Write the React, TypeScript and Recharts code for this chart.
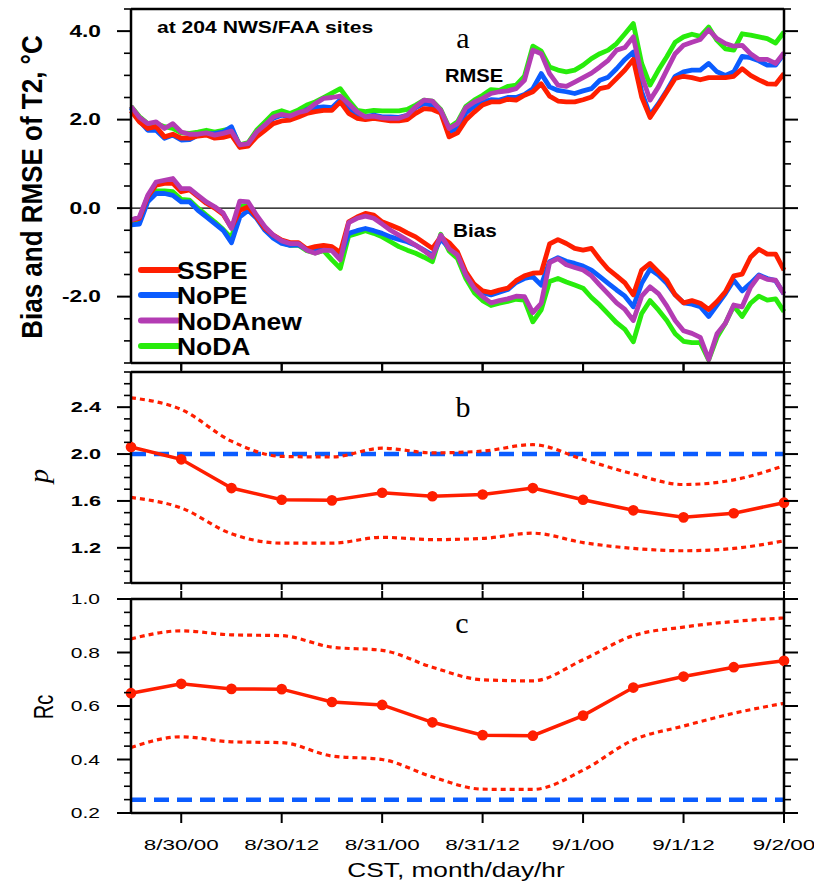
import { LineChart, Line, XAxis, YAxis, ReferenceLine } from "recharts";

// hourly T2 stats, first point = 8/29 18 CST
const rmseSSPE = [2.2, 1.95, 1.8, 1.84, 1.61, 1.67, 1.58, 1.58, 1.63, 1.65, 1.58, 1.6, 1.65, 1.37, 1.4, 1.61, 1.76, 1.91, 1.97, 1.99, 2.06, 2.14, 2.18, 2.21, 2.21, 2.4, 2.14, 2.03, 2.0, 2.03, 2.0, 1.97, 1.97, 2.0, 2.14, 2.25, 2.23, 2.15, 1.61, 1.7, 1.99, 2.17, 2.33, 2.4, 2.4, 2.46, 2.44, 2.55, 2.63, 2.81, 2.53, 2.42, 2.4, 2.4, 2.45, 2.51, 2.7, 2.74, 2.93, 3.12, 3.36, 2.51, 2.05, 2.33, 2.63, 2.93, 2.98, 2.95, 2.9, 2.95, 2.95, 2.95, 2.98, 3.15, 3.0, 2.9, 2.81, 2.8, 3.04];
const rmseNoPE = [2.27, 1.97, 1.76, 1.76, 1.58, 1.65, 1.54, 1.55, 1.65, 1.67, 1.69, 1.72, 1.84, 1.39, 1.45, 1.67, 1.85, 2.03, 2.1, 2.06, 2.11, 2.23, 2.27, 2.29, 2.27, 2.45, 2.27, 2.1, 2.06, 2.1, 2.06, 2.06, 2.05, 2.1, 2.27, 2.36, 2.33, 2.18, 1.72, 1.8, 2.15, 2.3, 2.4, 2.45, 2.44, 2.5, 2.5, 2.57, 2.7, 3.04, 2.74, 2.66, 2.63, 2.59, 2.65, 2.7, 2.89, 2.96, 3.15, 3.36, 3.53, 2.63, 2.1, 2.36, 2.66, 2.98, 3.08, 3.12, 3.12, 3.27, 3.08, 3.0, 3.08, 3.43, 3.4, 3.33, 3.23, 3.23, 3.49];
const rmseNoDAnew = [2.3, 2.05, 1.91, 1.95, 1.8, 1.91, 1.72, 1.67, 1.67, 1.7, 1.65, 1.69, 1.74, 1.43, 1.46, 1.72, 1.88, 2.06, 2.12, 2.08, 2.16, 2.21, 2.36, 2.48, 2.5, 2.53, 2.36, 2.18, 2.06, 2.08, 2.04, 2.03, 2.03, 2.1, 2.29, 2.44, 2.42, 2.21, 1.8, 1.91, 2.27, 2.4, 2.48, 2.59, 2.63, 2.65, 2.7, 2.89, 3.57, 3.49, 3.04, 2.78, 2.75, 2.85, 2.95, 3.05, 3.19, 3.34, 3.57, 3.63, 3.87, 3.0, 2.44, 2.74, 3.12, 3.49, 3.68, 3.75, 3.81, 4.03, 3.83, 3.72, 3.66, 3.68, 3.49, 3.36, 3.36, 3.27, 3.51];
const rmseNoDA = [2.3, 2.07, 1.91, 1.91, 1.84, 1.8, 1.7, 1.69, 1.72, 1.76, 1.72, 1.76, 1.8, 1.43, 1.48, 1.76, 1.95, 2.14, 2.2, 2.14, 2.22, 2.33, 2.4, 2.5, 2.6, 2.7, 2.44, 2.21, 2.18, 2.21, 2.2, 2.2, 2.2, 2.23, 2.33, 2.44, 2.42, 2.23, 1.82, 1.95, 2.3, 2.44, 2.55, 2.68, 2.66, 2.75, 2.78, 2.98, 3.66, 3.55, 3.19, 3.12, 3.08, 3.12, 3.23, 3.38, 3.49, 3.57, 3.72, 3.94, 4.17, 3.27, 2.78, 3.12, 3.42, 3.75, 3.87, 3.93, 3.88, 4.09, 3.79, 3.6, 3.57, 3.94, 3.91, 3.87, 3.83, 3.73, 3.98];

const biasSSPE = [-0.27, -0.23, 0.26, 0.52, 0.56, 0.56, 0.37, 0.41, 0.26, 0.11, 0.0, -0.14, -0.44, -0.05, 0.03, -0.2, -0.46, -0.61, -0.72, -0.78, -0.78, -0.92, -0.87, -0.84, -0.87, -1.0, -0.31, -0.2, -0.12, -0.16, -0.31, -0.38, -0.46, -0.56, -0.65, -0.78, -0.91, -0.65, -0.78, -0.99, -1.44, -1.72, -1.87, -1.91, -1.85, -1.81, -1.64, -1.53, -1.47, -1.46, -0.81, -0.71, -0.8, -0.91, -0.95, -0.91, -1.16, -1.38, -1.53, -1.69, -1.96, -1.4, -1.25, -1.44, -1.63, -1.96, -2.14, -2.09, -2.15, -2.29, -2.11, -1.89, -1.53, -1.49, -1.11, -0.93, -1.04, -1.04, -1.4];
const biasNoPE = [-0.38, -0.36, 0.14, 0.33, 0.33, 0.29, 0.14, 0.14, -0.05, -0.2, -0.35, -0.5, -0.78, -0.2, -0.05, -0.23, -0.5, -0.68, -0.8, -0.84, -0.83, -0.93, -0.95, -0.91, -0.95, -1.11, -0.57, -0.51, -0.46, -0.51, -0.57, -0.65, -0.71, -0.76, -0.84, -0.95, -1.06, -0.7, -0.9, -1.02, -1.51, -1.78, -1.91, -1.96, -1.9, -1.84, -1.68, -1.59, -1.55, -1.74, -1.21, -1.12, -1.2, -1.25, -1.31, -1.4, -1.55, -1.7, -1.85, -1.99, -2.23, -1.7, -1.38, -1.51, -1.7, -1.96, -2.14, -2.17, -2.23, -2.45, -2.19, -1.93, -1.63, -1.87, -1.7, -1.51, -1.59, -1.64, -1.94];
const biasNoDAnew = [-0.27, -0.2, 0.29, 0.59, 0.63, 0.67, 0.44, 0.44, 0.29, 0.14, 0.03, -0.11, -0.46, 0.16, 0.14, -0.16, -0.42, -0.61, -0.74, -0.8, -0.8, -0.95, -1.02, -0.95, -0.96, -1.17, -0.33, -0.23, -0.18, -0.23, -0.36, -0.5, -0.61, -0.72, -0.84, -0.96, -1.11, -0.61, -0.92, -1.06, -1.51, -1.81, -2.0, -2.14, -2.09, -2.05, -1.99, -2.0, -2.36, -2.15, -1.23, -1.14, -1.28, -1.34, -1.4, -1.53, -1.74, -1.94, -2.14, -2.29, -2.54, -1.99, -1.78, -1.93, -2.21, -2.54, -2.77, -2.83, -2.92, -3.42, -2.84, -2.6, -2.19, -2.23, -1.79, -1.53, -1.61, -1.63, -1.94];
const biasNoDA = [-0.38, -0.31, 0.18, 0.39, 0.39, 0.37, 0.2, 0.18, 0.0, -0.16, -0.31, -0.48, -0.68, 0.05, 0.05, -0.2, -0.48, -0.65, -0.78, -0.84, -0.84, -0.96, -1.01, -0.96, -1.17, -1.36, -0.63, -0.57, -0.51, -0.57, -0.65, -0.76, -0.87, -0.95, -1.02, -1.11, -1.21, -0.59, -0.97, -1.14, -1.59, -1.91, -2.09, -2.2, -2.15, -2.11, -2.06, -2.08, -2.57, -2.3, -1.66, -1.59, -1.67, -1.74, -1.81, -2.02, -2.19, -2.39, -2.59, -2.74, -3.02, -2.38, -2.09, -2.3, -2.54, -2.84, -3.01, -3.04, -3.04, -3.43, -2.92, -2.6, -2.21, -2.45, -2.15, -1.99, -2.08, -2.05, -2.34];

// 6-hourly fitted parameters (best estimate and bounds)
const sixHourly = [0, 6, 12, 18, 24, 30, 36, 42, 48, 54, 60, 66, 72, 78];
const pBest = [2.06, 1.955, 1.71, 1.61, 1.605, 1.67, 1.64, 1.655, 1.71, 1.61, 1.52, 1.46, 1.495, 1.585];
const pUpper = [2.48, 2.38, 2.11, 1.98, 1.975, 2.05, 2.01, 2.025, 2.08, 1.955, 1.83, 1.74, 1.78, 1.9];
const pLower = [1.63, 1.54, 1.32, 1.24, 1.24, 1.29, 1.27, 1.28, 1.325, 1.245, 1.195, 1.175, 1.195, 1.26];
const rcBest = [0.648, 0.683, 0.664, 0.663, 0.615, 0.604, 0.539, 0.491, 0.489, 0.564, 0.669, 0.71, 0.745, 0.769];
const rcUpper = [0.851, 0.881, 0.866, 0.863, 0.82, 0.808, 0.745, 0.698, 0.694, 0.773, 0.863, 0.895, 0.916, 0.929];
const rcLower = [0.445, 0.485, 0.466, 0.463, 0.413, 0.4, 0.335, 0.289, 0.288, 0.36, 0.473, 0.525, 0.573, 0.61];
const pRef = 2.0;
const rcRef = 0.25;

const tickHours = [6, 18, 30, 42, 54, 66, 78];
const tickLabels = ["8/30/00", "8/30/12", "8/31/00", "8/31/12", "9/1/00", "9/1/12", "9/2/00"];
const aMajor = [-2, 0, 2, 4];
const bMajor = [1.2, 1.6, 2.0, 2.4];
const cMajor = [0.2, 0.4, 0.6, 0.8, 1.0];

const RED = "#ff1e00";
const BLUE = "#0b5cff";
const PURPLE = "#b33cb3";
const GREEN = "#28ec0c";
const SANS = "'Liberation Sans', Arial, sans-serif";
const SERIF = "'Liberation Serif', 'Times New Roman', serif";

const series = [
  { name: "SSPE", rmse: rmseSSPE, bias: biasSSPE, color: RED },
  { name: "NoPE", rmse: rmseNoPE, bias: biasNoPE, color: BLUE },
  { name: "NoDAnew", rmse: rmseNoDAnew, bias: biasNoDAnew, color: PURPLE },
  { name: "NoDA", rmse: rmseNoDA, bias: biasNoDA, color: GREEN },
];
// draw order: green under, purple on top
const drawOrder = ["NoDA", "NoPE", "SSPE", "NoDAnew"];

const hourlyRows = rmseSSPE.map((_, h) => {
  const row: Record<string, number> = { h };
  series.forEach((s) => {
    row["rmse_" + s.name] = s.rmse[h];
    row["bias_" + s.name] = s.bias[h];
  });
  return row;
});
const pRows = sixHourly.map((h, i) => ({ h, best: pBest[i], upper: pUpper[i], lower: pLower[i] }));
const rcRows = sixHourly.map((h, i) => ({ h, best: rcBest[i], upper: rcUpper[i], lower: rcLower[i] }));

const steps = (lo: number, hi: number, d: number) => {
  const out: number[] = [];
  for (let v = lo; v <= hi + d / 2; v += d) out.push(Math.round(v * 1000) / 1000);
  return out;
};

const frame = { stroke: "#000", strokeWidth: 2.5 };
const isMajor = (majors: number[], v: number) => majors.some((m) => Math.abs(m - v) < 1e-6);

function yTick(majors: number[], side: "left" | "right", labelOpts?: { size: number; bold: boolean; stretch: number; gap: number }) {
  return (props: any) => {
    const { x, y, payload } = props;
    const major = isMajor(majors, payload.value);
    const len = major ? 14 : 7;
    const dir = side === "left" ? -1 : 1;
    return (
      <g>
        <line x1={x} y1={y} x2={x + dir * len} y2={y} stroke="#000" strokeWidth={major ? 2 : 1.6} />
        {major && labelOpts && (
          <text
            transform={`translate(${x - labelOpts.gap},${y}) scale(${labelOpts.stretch},1)`}
            textAnchor="end"
            dy="0.36em"
            fontFamily={SANS}
            fontSize={labelOpts.size}
            fontWeight={labelOpts.bold ? "bold" : "normal"}
            fill="#000"
          >
            {payload.value.toFixed(1)}
          </text>
        )}
      </g>
    );
  };
}

function xTick(side: "top" | "bottom", len: number, withLabel = false) {
  return (props: any) => {
    const { x, y, payload } = props;
    const dir = side === "top" ? -1 : 1;
    const idx = tickHours.indexOf(payload.value);
    return (
      <g>
        <line x1={x} y1={y} x2={x} y2={y + dir * len} stroke="#000" strokeWidth={2} />
        {withLabel && (
          <text transform={`translate(${x},${y + 37}) scale(1.45,1)`} textAnchor="middle" fontFamily={SANS} fontSize={15.5} fill="#000">
            {tickLabels[idx]}
          </text>
        )}
      </g>
    );
  };
}

const noTick = () => <g />;

function frameAxes({ yDomain, yTicks, yMajor, topLen, botLen, topHeight, botHeight, labels, xLabels }: any) {
  return [
    <XAxis key="xt" xAxisId="top" orientation="top" type="number" dataKey="h" domain={[0, 78]} ticks={tickHours} interval={0} height={topHeight} tickSize={0} tickMargin={0} tickLine={false} axisLine={frame} tick={topLen ? xTick("top", topLen) : noTick} />,
    <XAxis key="xb" xAxisId="bot" orientation="bottom" type="number" dataKey="h" domain={[0, 78]} ticks={tickHours} interval={0} height={botHeight} tickSize={0} tickMargin={0} tickLine={false} axisLine={frame} tick={xTick("bottom", botLen, xLabels)} />,
    <YAxis key="yl" yAxisId="l" orientation="left" type="number" width={131} domain={yDomain} ticks={yTicks} interval={0} tickSize={0} tickMargin={0} tickLine={false} axisLine={frame} tick={yTick(yMajor, "left", labels)} allowDataOverflow />,
    <YAxis key="yr" yAxisId="r" orientation="right" type="number" width={30} domain={yDomain} ticks={yTicks} interval={0} tickSize={0} tickMargin={0} tickLine={false} axisLine={frame} tick={yTick(yMajor, "right")} allowDataOverflow />,
  ];
}

const legendRows = [
  { name: "SSPE", color: RED, y: 270 },
  { name: "NoPE", color: BLUE, y: 295 },
  { name: "NoDAnew", color: PURPLE, y: 320.5 },
  { name: "NoDA", color: GREEN, y: 346 },
];

export default function App() {
  const zeroMargin = { top: 0, right: 0, bottom: 0, left: 0 };
  return (
    <div style={{ position: "absolute", left: 0, top: 0, width: 814, height: 882, background: "#fff" }}>
      {/* panel a */}
      <div style={{ position: "absolute", left: 0, top: 0 }}>
        <LineChart width={814} height={372} data={hourlyRows} margin={zeroMargin}>
          {frameAxes({ yDomain: [-3.5, 4.5], yTicks: steps(-3.5, 4.5, 0.5), yMajor: aMajor, topLen: 0, botLen: 7, topHeight: 9, botHeight: 9, labels: { size: 16, bold: true, stretch: 1.42, gap: 30 } })}
          <ReferenceLine xAxisId="bot" yAxisId="l" y={0} stroke="#000" strokeWidth={1.2} />
          {drawOrder.map((n) => {
            const s = series.find((x) => x.name === n)!;
            return [
              <Line key={"r" + n} xAxisId="bot" yAxisId="l" dataKey={"rmse_" + n} stroke={s.color} strokeWidth={4.8} dot={false} isAnimationActive={false} strokeLinejoin="round" />,
              <Line key={"b" + n} xAxisId="bot" yAxisId="l" dataKey={"bias_" + n} stroke={s.color} strokeWidth={4.8} dot={false} isAnimationActive={false} strokeLinejoin="round" />,
            ];
          })}
        </LineChart>
      </div>

      {/* panel b */}
      <div style={{ position: "absolute", left: 0, top: 363 }}>
        <LineChart width={814} height={227} data={pRows} margin={zeroMargin}>
          {frameAxes({ yDomain: [0.9, 2.7], yTicks: steps(0.9, 2.7, 0.1), yMajor: bMajor, topLen: 8, botLen: 7, topHeight: 9, botHeight: 7, labels: { size: 14, bold: true, stretch: 1.55, gap: 30 } })}
          <ReferenceLine xAxisId="bot" yAxisId="l" y={pRef} stroke={BLUE} strokeWidth={4.5} strokeDasharray="15 8" />
          <Line xAxisId="bot" yAxisId="l" dataKey="upper" type="monotone" stroke={RED} strokeWidth={3.2} strokeDasharray="5 4" dot={false} isAnimationActive={false} />
          <Line xAxisId="bot" yAxisId="l" dataKey="lower" type="monotone" stroke={RED} strokeWidth={3.2} strokeDasharray="5 4" dot={false} isAnimationActive={false} />
          <Line xAxisId="bot" yAxisId="l" dataKey="best" stroke={RED} strokeWidth={3.5} dot={{ r: 3.6, fill: RED, stroke: RED }} isAnimationActive={false} />
        </LineChart>
      </div>

      {/* panel c */}
      <div style={{ position: "absolute", left: 0, top: 590 }}>
        <LineChart width={814} height={292} data={rcRows} margin={zeroMargin}>
          {frameAxes({ yDomain: [0.2, 1.0], yTicks: steps(0.2, 1.0, 0.05), yMajor: cMajor, topLen: 8, botLen: 10, topHeight: 9, botHeight: 69, labels: { size: 14, bold: false, stretch: 1.5, gap: 31 }, xLabels: true })}
          <ReferenceLine xAxisId="bot" yAxisId="l" y={rcRef} stroke={BLUE} strokeWidth={4.5} strokeDasharray="15 8" />
          <Line xAxisId="bot" yAxisId="l" dataKey="upper" type="monotone" stroke={RED} strokeWidth={3.2} strokeDasharray="5 4" dot={false} isAnimationActive={false} />
          <Line xAxisId="bot" yAxisId="l" dataKey="lower" type="monotone" stroke={RED} strokeWidth={3.2} strokeDasharray="5 4" dot={false} isAnimationActive={false} />
          <Line xAxisId="bot" yAxisId="l" dataKey="best" stroke={RED} strokeWidth={3.5} dot={{ r: 3.6, fill: RED, stroke: RED }} isAnimationActive={false} />
        </LineChart>
      </div>

      {/* titles, panel letters, legend */}
      <svg width={814} height={882} style={{ position: "absolute", left: 0, top: 0, pointerEvents: "none" }}>
        <text transform="translate(42,187) rotate(-90) scale(1,1.17)" textAnchor="middle" fontFamily={SANS} fontWeight="bold" fontSize={26}>
          Bias and RMSE of T2, °C
        </text>
        <text transform="translate(48,476) rotate(-90)" textAnchor="middle" fontFamily={SERIF} fontStyle="italic" fontSize={28}>
          p
        </text>
        <text transform="translate(53,707) rotate(-90) scale(1,1.35)" textAnchor="middle" fontFamily={SANS} fontSize={20}>
          Rc
        </text>
        <text transform="translate(157,33) scale(1.32,1)" fontFamily={SANS} fontWeight="bold" fontSize={16}>
          at 204 NWS/FAA sites
        </text>
        <text x={463} y={48} textAnchor="middle" fontFamily={SERIF} fontSize={30}>a</text>
        <text x={463} y={417} textAnchor="middle" fontFamily={SERIF} fontSize={30}>b</text>
        <text x={462} y={633} textAnchor="middle" fontFamily={SERIF} fontSize={30}>c</text>
        <text transform="translate(445,82) scale(1.12,1)" fontFamily={SANS} fontWeight="bold" fontSize={18}>RMSE</text>
        <text transform="translate(453,237) scale(1.15,1)" fontFamily={SANS} fontWeight="bold" fontSize={18}>Bias</text>
        {legendRows.map((r) => (
          <g key={r.name}>
            <line x1={141} x2={178} y1={r.y} y2={r.y} stroke={r.color} strokeWidth={6} strokeLinecap="round" />
            <text transform={`translate(177,${r.y + 9}) scale(1.15,1)`} fontFamily={SANS} fontWeight="bold" fontSize={23}>
              {r.name}
            </text>
          </g>
        ))}
        <text transform="translate(456,877) scale(1.25,1)" textAnchor="middle" fontFamily={SANS} fontSize={21}>
          CST, month/day/hr
        </text>
      </svg>
    </div>
  );
}
